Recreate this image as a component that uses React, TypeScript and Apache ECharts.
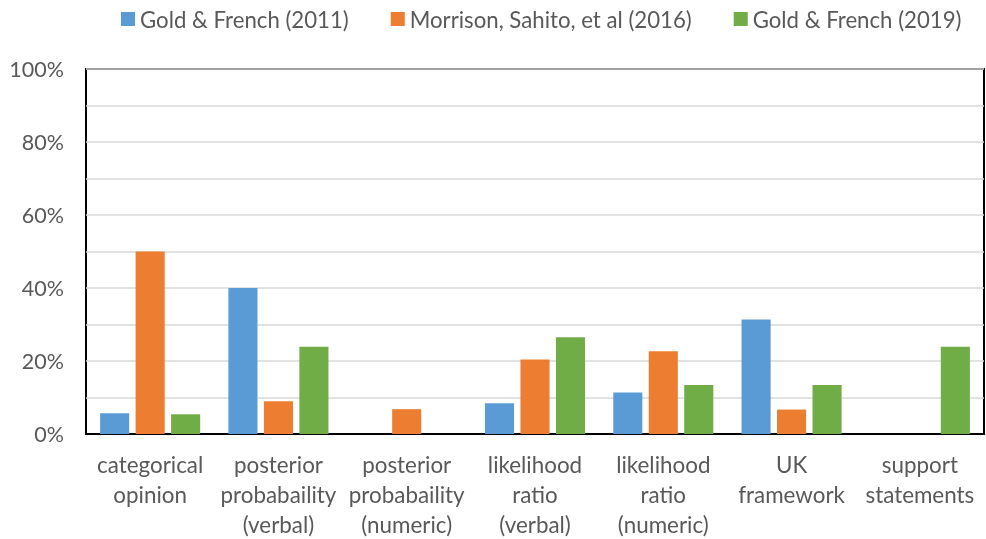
import React, { useEffect, useRef } from "react";
import * as echarts from "echarts";

const categories = [
  "categorical\nopinion",
  "posterior\nprobabaility\n(verbal)",
  "posterior\nprobabaility\n(numeric)",
  "likelihood\nratio\n(verbal)",
  "likelihood\nratio\n(numeric)",
  "UK\nframework",
  "support\nstatements",
];
const seriesNames = ["Gold & French (2011)", "Morrison, Sahito, et al (2016)", "Gold & French (2019)"];
const gold2011 = [5.7, 40, 0, 8.4, 11.4, 31.4, 0];
const morrison2016 = [50, 9, 6.8, 20.4, 22.7, 6.7, 0];
const gold2019 = [5.4, 23.9, 0, 26.5, 13.4, 13.4, 23.9];
const colors = ["#5B9BD5", "#ED7D31", "#70AD47"];

export default function App() {
  const ref = useRef<HTMLDivElement>(null);
  useEffect(() => {
    document.body.style.margin = "0";
    document.body.style.overflow = "hidden";
    const chart = echarts.init(ref.current!, null, { renderer: "svg" });
    const font = "Lato";
    const mk = (name: string, data: number[], color: string) => ({
      name,
      type: "bar",
      data,
      itemStyle: { color },
      barGap: "22%",
      barCategoryGap: "22%",
    });
    chart.setOption({
      animation: false,
      textStyle: { fontFamily: font },
      legend: {
        top: 3,
        left: 116,
        itemWidth: 14,
        itemHeight: 14,
        itemGap: 42,
        icon: "rect",
        textStyle: { fontSize: 22.2, color: "#595959", fontFamily: font },
        data: seriesNames,
      },
      grid: {
        left: 86,
        right: 2,
        top: 69,
        bottom: 102,
        show: true,
        borderColor: "#000",
        borderWidth: 2,
        containLabel: false,
      },
      xAxis: {
        type: "category",
        data: categories,
        axisLine: { show: true, lineStyle: { color: "#000", width: 2 } },
        axisTick: { show: false },
        axisLabel: {
          color: "#595959",
          fontSize: 22.4,
          lineHeight: 30,
          margin: 15,
          interval: 0,
          fontFamily: font,
        },
      },
      yAxis: {
        type: "value",
        min: 0,
        max: 100,
        interval: 10,
        axisLine: { show: false },
        axisTick: { show: false },
        splitLine: { lineStyle: { color: "#d9d9d9", width: 1.5 } },
        axisLabel: {
          color: "#595959",
          fontSize: 21.5,
          margin: 22,
          fontFamily: font,
          formatter: (v: number) => (v % 20 === 0 ? v + "%" : ""),
        },
      },
      series: [
        mk(seriesNames[0], gold2011, colors[0]),
        mk(seriesNames[1], morrison2016, colors[1]),
        mk(seriesNames[2], gold2019, colors[2]),
      ],
    });
    return () => chart.dispose();
  }, []);
  return (
    <div style={{ position: "fixed", left: 0, top: 0, width: 986, height: 539, overflow: "hidden" }}>
      <div ref={ref} style={{ width: 986, height: 539 }} />
    </div>
  );
}
